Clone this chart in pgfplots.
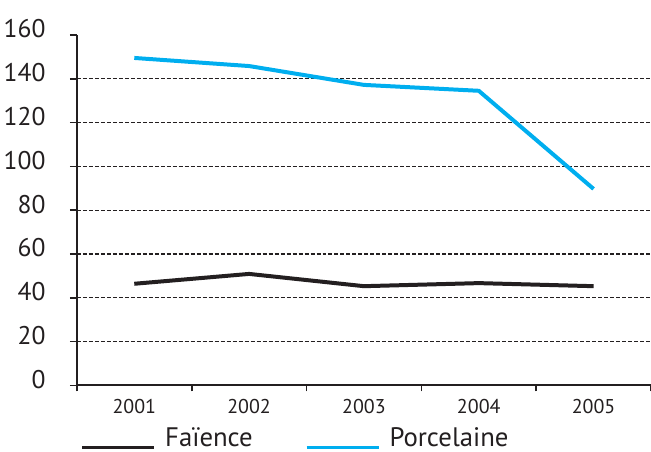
\documentclass[border=0pt]{standalone}
\usepackage{pgfplots}
\pgfplotsset{compat=1.18}
\usepackage{fontspec}
\setmainfont{PT Sans}
\definecolor{txt}{HTML}{231F20}
\definecolor{cyanline}{HTML}{00AEEF}
\begin{document}
\begin{tikzpicture}
\useasboundingbox (-38.5bp,-33bp) rectangle (287.5bp,193bp);
\begin{axis}[
  scale only axis, width=287.5bp, height=175.5bp,
  xmin=0.5, xmax=5.5, ymin=0, ymax=160,
  axis x line*=bottom, axis y line*=left,
  axis line style={txt, line width=1bp},
  tick align=outside,
  xtick={1,2,3,4,5},
  xticklabels={2001,2002,2003,2004,2005},
  major x tick style={draw=none},
  minor xtick={0.5,1.5,2.5,3.5,4.5,5.5},
  minor x tick style={txt, line width=0.8bp},
  minor tick length=3bp,
  major tick length=3.5bp,
  ytick={0,20,40,60,80,100,120,140},
  yticklabels={0,20,40,60,80,100,120,140},
  extra y ticks={160},
  extra y tick labels={160},
  extra y tick style={grid=none},
  major y tick style={txt, line width=0.8bp},
  ymajorgrids,
  major grid style={txt, line width=0.6bp, dash pattern=on 2bp off 1bp},
  xticklabel style={anchor=base, inner sep=0pt, yshift=-10.5bp, font=\fontsize{10bp}{12bp}\selectfont, text=txt},
  yticklabel style={anchor=base east, inner sep=0pt, xshift=-12bp, yshift=-1.5bp, font=\fontsize{12.8bp}{14bp}\selectfont, text=txt},
  legend columns=2,
  legend cell align=left,
  legend style={draw=none, fill=none, at={(axis description cs:-0.005,-0.208)}, anchor=south west,
    font=\fontsize{13.4bp}{14bp}\selectfont, text=txt,
    /tikz/every even column/.append style={column sep=24bp},
    /tikz/every odd column/.append style={column sep=2.5bp}},
  legend image code/.code={\draw[#1, line width=1.5bp, overlay] (0bp,-4.5bp) -- (36bp,-4.5bp);\path (0bp,0bp) (36bp,0bp);},
]
\addplot[txt, line width=2bp] coordinates {(1,46.4) (2,50.9) (3,45.3) (4,46.7) (5,45.3)};
\addlegendentry{Faïence}
\addplot[cyanline, line width=2bp] coordinates {(1,149.5) (2,145.8) (3,137.2) (4,134.5) (5,89.7)};
\addlegendentry{Porcelaine}
\end{axis}
\end{tikzpicture}
\end{document}
